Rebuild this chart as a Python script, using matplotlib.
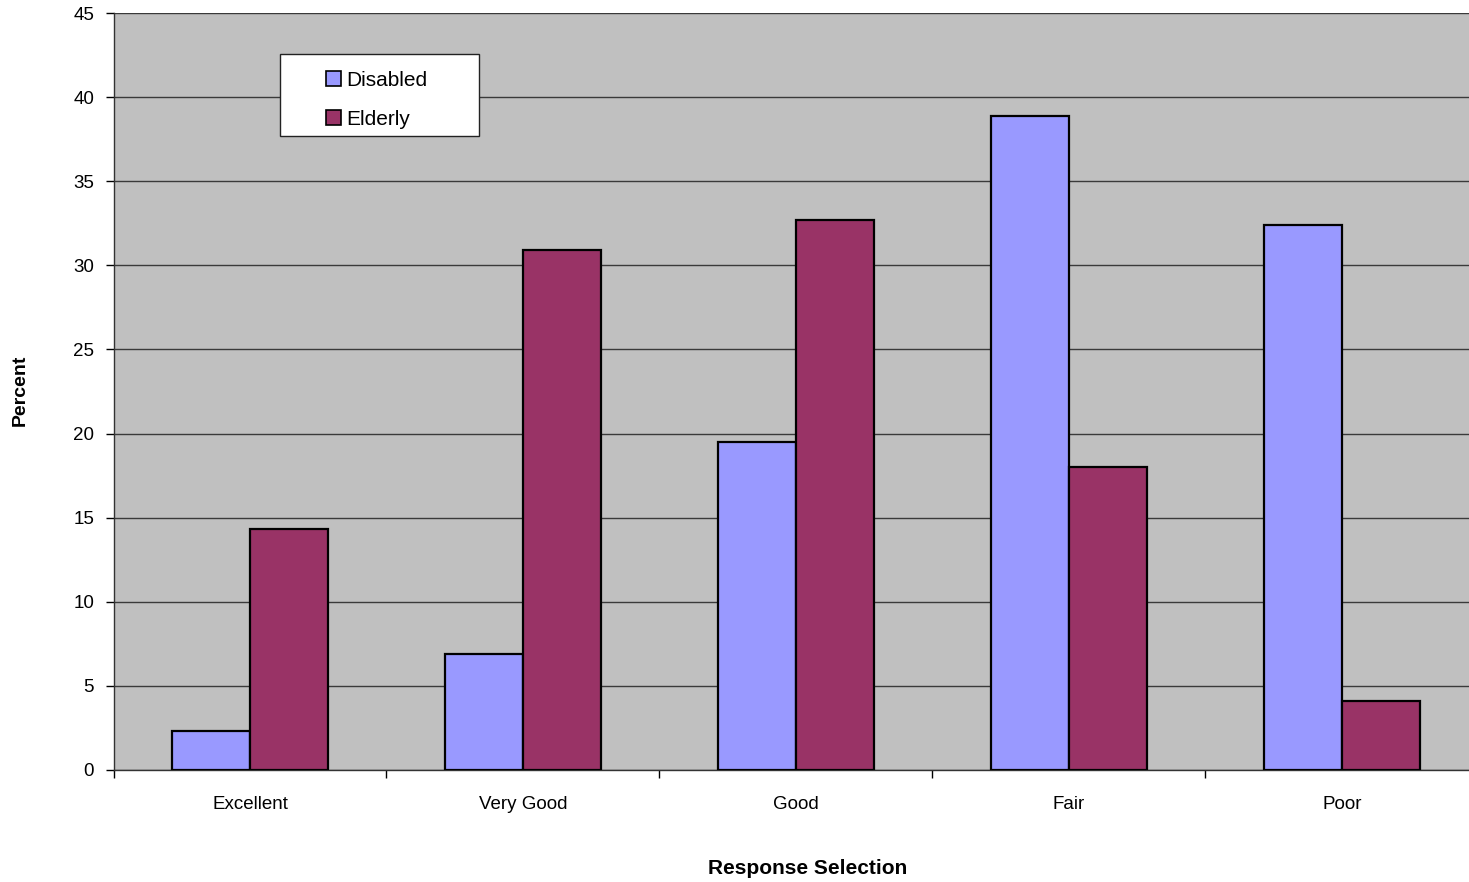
import matplotlib.pyplot as plt
import numpy as np
from matplotlib.patches import Patch, Rectangle

plt.rcParams['font.family'] = ['Liberation Sans', 'DejaVu Sans']

categories = ['Excellent', 'Very Good', 'Good', 'Fair', 'Poor']
disabled = [2.3, 6.9, 19.5, 38.9, 32.4]
elderly = [14.3, 30.9, 32.7, 18.0, 4.1]

c_dis = '#9999FF'
c_eld = '#993366'

fig = plt.figure(figsize=(14.69, 8.82), dpi=100)
# plot area runs slightly past the right edge of the figure
L, R, T, B = 113.5, 1478.5, 13, 770
ax = fig.add_axes([L / 1469, 1 - B / 882, (R - L) / 1469, (B - T) / 882])
ax.set_facecolor('#C0C0C0')

x = np.arange(len(categories))
w = 1 / 3.5
ax.bar(x - w / 2, disabled, w, color=c_dis, edgecolor='black', linewidth=1.6, zorder=3)
ax.bar(x + w / 2, elderly, w, color=c_eld, edgecolor='black', linewidth=1.6, zorder=3)

ax.set_xlim(-0.5, 4.5)
ax.set_ylim(0, 45)
ax.set_yticks(np.arange(0, 46, 5))
ax.yaxis.grid(True, color='#3a3a3a', linewidth=1.0, zorder=1)
ax.set_axisbelow(True)

# category names centred, tick marks on the boundaries
ax.set_xticks(x)
ax.set_xticklabels(categories, fontsize=13.5)
ax.tick_params(axis='x', which='major', length=0, pad=19)
ax.set_xticks(np.arange(-0.5, 5, 1), minor=True)
ax.tick_params(axis='x', which='minor', length=6, width=1, color='black')
ax.tick_params(axis='y', length=6, width=1, labelsize=13.5, pad=8)

for s in ['top', 'right']:
    ax.spines[s].set_visible(False)
ax.spines['left'].set_linewidth(1.0)
ax.spines['bottom'].set_linewidth(1.0)
ax.spines['left'].set_color('#333333')
ax.spines['bottom'].set_color('#333333')

# legend box
pw, ph = R - L, B - T
x0, x1 = (280 - L) / pw, (479 - L) / pw
y1, y0 = (B - 54) / ph, (B - 136) / ph
ax.add_patch(Rectangle((x0, y0), x1 - x0, y1 - y0, transform=ax.transAxes,
                       facecolor='white', edgecolor='#222222', linewidth=1.0, zorder=4))
handles = [Patch(facecolor=c_dis, edgecolor='black', linewidth=1.2),
           Patch(facecolor=c_eld, edgecolor='black', linewidth=1.2)]
leg = ax.legend(handles, ['Disabled', 'Elderly'], loc='upper left',
                bbox_to_anchor=((326 - L) / pw, (B - 71) / ph),
                frameon=False, fontsize=15, handlelength=0.7, handleheight=0.7,
                handletextpad=0.25, labelspacing=0.95, borderpad=0, borderaxespad=0)
leg.set_zorder(5)

fig.text(20 / 1469, 1 - 390 / 882, 'Percent', rotation=90, fontsize=14,
         fontweight='bold', ha='center', va='center')
fig.text(808 / 1469, 1 - 868 / 882, 'Response Selection', fontsize=15,
         fontweight='bold', ha='center', va='center')

fig.savefig('out.png', dpi=100)
